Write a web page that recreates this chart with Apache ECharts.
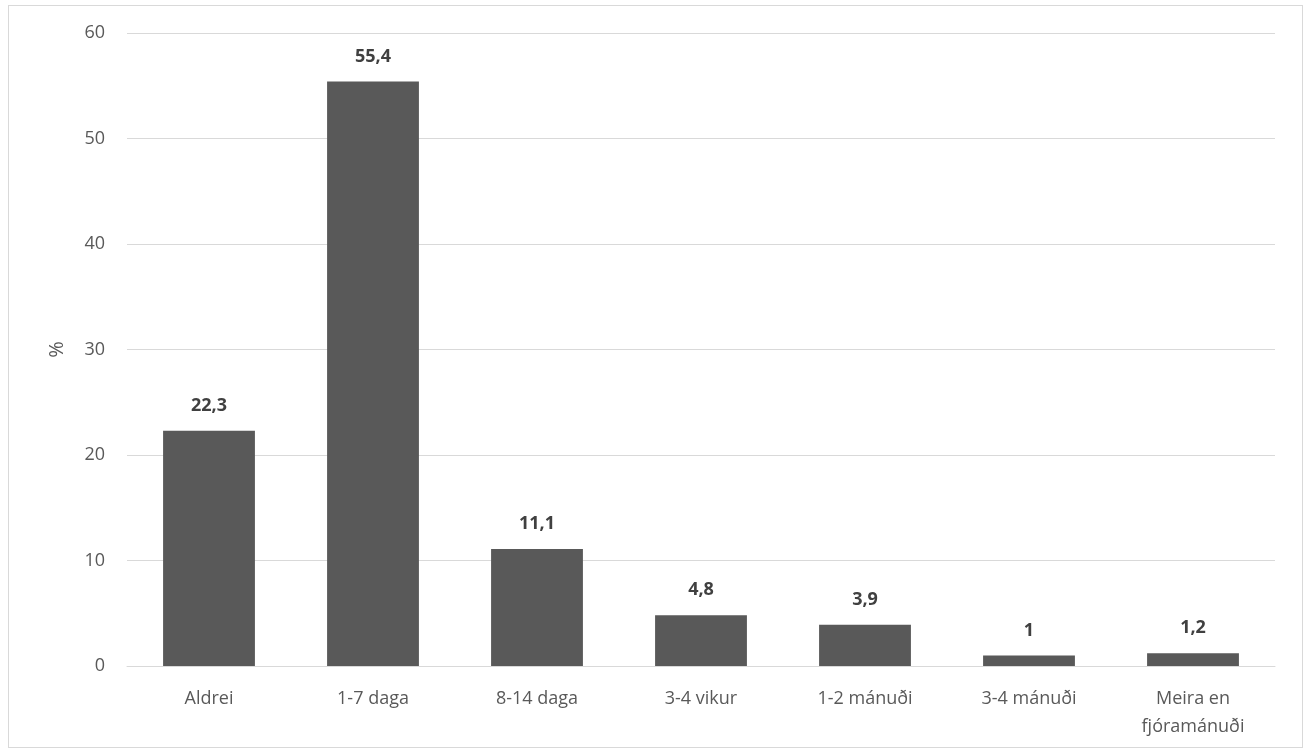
<!DOCTYPE html>
<html>
<head>
<meta charset="utf-8">
<script src="https://cdn.jsdelivr.net/npm/echarts@6/dist/echarts.min.js"></script>
<style>
  html, body { margin: 0; padding: 0; background: #fff; }
  #chart { width: 1304px; height: 752px; }
  #frame { position: absolute; left: 8px; top: 5px; width: 1293px; height: 741px; border: 1px solid #d9d9d9; pointer-events: none; }
</style>
</head>
<body>
<div id="chart"></div>
<div id="frame"></div>
<script>
const categories = ['Aldrei', '1-7 daga', '8-14 daga', '3-4 vikur', '1-2 mánuði', '3-4 mánuði', 'Meira en\nfjóramánuði'];
const values = [22.3, 55.4, 11.1, 4.8, 3.9, 1, 1.2];

const myChart = echarts.init(document.getElementById('chart'));
const option = {
  animation: false,
  textStyle: { fontFamily: 'Open Sans' },
  grid: { left: 127, right: 29, top: 33, bottom: 86 },
  xAxis: {
    type: 'category',
    data: categories,
    axisLine: { lineStyle: { color: '#d9d9d9' } },
    axisTick: { show: false },
    axisLabel: { color: '#595959', fontSize: 18, margin: 19, lineHeight: 28 }
  },
  yAxis: {
    type: 'value',
    min: 0,
    max: 60,
    interval: 10,
    name: '%',
    nameLocation: 'middle',
    nameGap: 60,
    nameRotate: 90,
    nameTextStyle: { color: '#595959', fontSize: 20 },
    axisLine: { show: false },
    axisTick: { show: false },
    axisLabel: { color: '#595959', fontSize: 18, margin: 22 },
    splitLine: { lineStyle: { color: '#d9d9d9' } }
  },
  series: [{
    type: 'bar',
    data: values,
    barWidth: '56%',
    itemStyle: { color: '#595959' },
    label: {
      show: true,
      position: 'top',
      distance: 16,
      color: '#404040',
      fontWeight: 'bold',
      fontSize: 18,
      formatter: p => String(p.value).replace('.', ',')
    }
  }]
};
option && myChart.setOption(option);
</script>
</body>
</html>
